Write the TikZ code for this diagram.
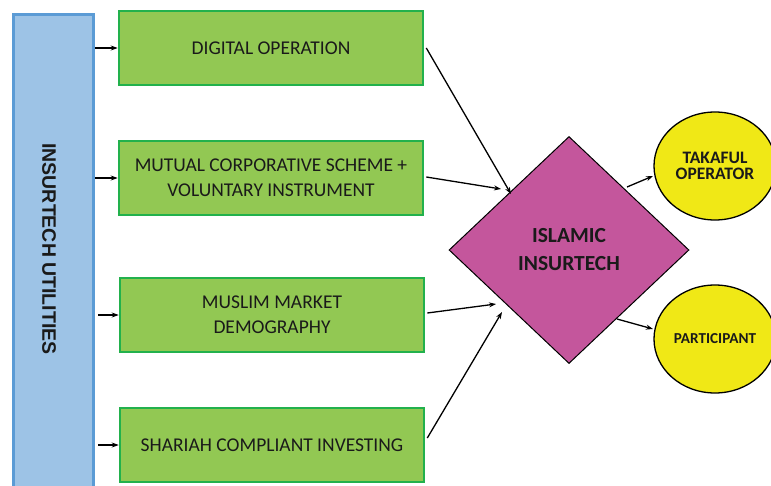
\documentclass[tikz,border=0pt]{standalone}
\usepackage{fontspec}
\setmainfont{Carlito}
\newfontfamily\arialfont{Liberation Sans}
\usetikzlibrary{shapes.geometric,arrows.meta,calc}
\definecolor{barfill}{HTML}{9DC3E6}
\definecolor{barline}{HTML}{5B9BD5}
\definecolor{boxfill}{HTML}{92C853}
\definecolor{boxline}{HTML}{22B14C}
\definecolor{diafill}{HTML}{C4569C}
\definecolor{ellfill}{HTML}{F0E816}
\definecolor{txt}{HTML}{1A1A1A}
\begin{document}
\begin{tikzpicture}[x=1pt,y=-1pt,
  greenbox/.style={draw=boxline,line width=2.6pt,fill=boxfill,minimum width=304pt,minimum height=74pt,
    inner sep=0pt,align=center,text=txt,font=\fontsize{19.5}{25}\selectfont},
  arr/.style={-{Stealth[length=7pt,width=5pt]},line width=1.3pt,black},
  ellnode/.style={ellipse,draw=black,line width=1.3pt,fill=ellfill,minimum width=122pt,minimum height=108pt,
    inner sep=0pt,align=center,text=txt}]
\useasboundingbox (0,0) rectangle (771,485);
\fill[white] (0,0) rectangle (771,485);
% blue bar
\node[draw=barline,line width=3pt,fill=barfill,minimum width=80pt,minimum height=480pt,inner sep=0pt,anchor=north west]
  (bar) at (12,13) {};
\node[rotate=-90,font=\arialfont\bfseries\fontsize{19.5}{22}\selectfont,text=txt] (bartext) at (49,249) {INSURTECH UTILITIES};
% green boxes
\node[greenbox] (b1) at (271,48) {DIGITAL OPERATION};
\node[greenbox] (b2) at (271,178) {MUTUAL CORPORATIVE SCHEME +\\VOLUNTARY INSTRUMENT};
\node[greenbox] (b3) at (272,315) {MUSLIM MARKET\\DEMOGRAPHY};
\node[greenbox] (b4) at (272,445) {SHARIAH COMPLIANT INVESTING};
% diamond
\node[diamond,draw=black,line width=1pt,fill=diafill,minimum width=240pt,minimum height=227pt,inner sep=0pt,
  align=center,text=txt,font=\bfseries\fontsize{21.5}{28}\selectfont] (dia) at (569,250) {ISLAMIC\\INSURTECH};
% ellipses
\node[ellnode,font=\bfseries\fontsize{17.5}{16}\selectfont] (tak) at (715,166) {TAKAFUL\\OPERATOR};
\node[ellnode,font=\bfseries\fontsize{15.2}{17}\selectfont] (par) at (715,339) {PARTICIPANT};
% bar arrows
\draw[arr] (bar.east |- b1.west) -- (b1.west);
\draw[arr] (bar.east |- b2.west) -- (b2.west);
\draw[arr] ($(bar.east |- b3.west)+(3,0)$) -- (b3.west);
\draw[arr] ($(bar.east |- b4.west)+(3,0)$) -- (b4.west);
% into diamond
\coordinate (d1) at (511,194);
\coordinate (d2) at (501,189);
\coordinate (d3) at (496,304);
\coordinate (d4) at (502,312);
\draw[arr] ($(b1.east)+(2,0)$) -- (d1);
\draw[arr] ($(b2.east)+(2,-1)$) -- (d2);
\draw[arr] ($(b3.east)+(2,-2)$) -- (d3);
\draw[arr] ($(b4.east)+(2,-7)$) -- (d4);
% out of diamond
\coordinate (o1) at (627,187);
\coordinate (o2) at (617,319);
\coordinate (t1) at (653,176);
\coordinate (p1) at (653,329);
\draw[arr] (o1) -- (t1);
\draw[arr] (o2) -- (p1);
\end{tikzpicture}
\end{document}
